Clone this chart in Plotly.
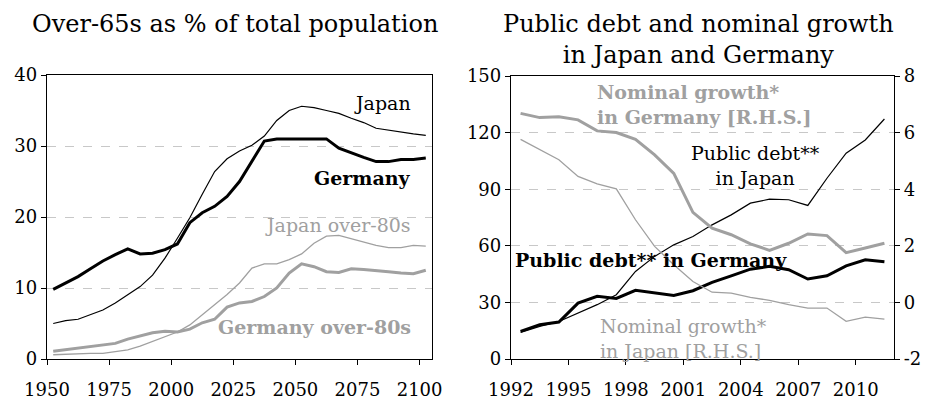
import plotly.graph_objects as go

# --- left panel: over-65s as % of total population (5-year steps)
pop_years = list(range(1950, 2101, 5))
japan_65 = [5.0, 5.4, 5.6, 6.2, 6.9, 7.9, 9.1, 10.2, 11.8, 14.2, 17.0, 19.9, 23.2, 26.4, 28.2,
            29.3, 30.1, 31.4, 33.6, 35.0, 35.6, 35.4, 35.0, 34.6, 33.9, 33.3, 32.5, 32.2, 32.0,
            31.7, 31.5]
germany_65 = [9.8, 10.7, 11.6, 12.7, 13.8, 14.7, 15.5, 14.8, 14.9, 15.4, 16.2, 19.2, 20.6, 21.5,
              22.9, 25.0, 27.8, 30.7, 31.0, 31.0, 31.0, 31.0, 31.0, 29.7, 29.0, 28.4, 27.8, 27.8,
              28.1, 28.1, 28.3]
japan_80 = [0.6, 0.7, 0.7, 0.8, 0.8, 1.1, 1.3, 1.8, 2.5, 3.2, 3.8, 4.8, 6.2, 7.7, 9.1, 10.7,
            12.8, 13.4, 13.4, 14.0, 14.8, 16.3, 17.3, 17.4, 16.9, 16.4, 16.0, 15.7, 15.7, 16.0, 15.9]
germany_80 = [1.1, 1.3, 1.6, 1.8, 2.0, 2.2, 2.8, 3.3, 3.7, 3.9, 3.8, 4.2, 5.1, 5.6, 7.3, 7.9,
              8.1, 8.8, 10.0, 12.1, 13.4, 13.0, 12.3, 12.2, 12.7, 12.6, 12.5, 12.3, 12.1, 12.0, 12.5]
pop_tick_years = [1950, 1975, 2000, 2025, 2050, 2075, 2100]

# --- right panel: public debt (L.H.S.) and nominal growth (R.H.S.)
debt_years = list(range(1992, 2012))
japan_debt = [14.1, 17.3, 19.9, 24.4, 28.8, 34.1, 46.4, 54.4, 60.5, 64.9, 71.1, 76.4, 82.6,
              84.7, 84.4, 81.4, 95.8, 109.1, 116.1, 127.2]
germany_debt = [14.6, 18.2, 19.6, 29.6, 33.2, 32.1, 36.4, 35.0, 33.7, 36.2, 40.6, 44.1, 47.6,
                49.1, 47.3, 42.4, 44.1, 49.4, 52.6, 51.5]
germany_growth = [6.68, 6.53, 6.56, 6.45, 6.06, 6.0, 5.76, 5.21, 4.56, 3.18, 2.62, 2.39, 2.07,
                  1.84, 2.09, 2.42, 2.36, 1.76, 1.92, 2.09]
japan_growth = [5.76, 5.39, 5.04, 4.45, 4.19, 4.01, 2.92, 1.98, 1.33, 0.74, 0.36, 0.33, 0.18,
                0.07, -0.08, -0.2, -0.2, -0.67, -0.52, -0.59]
debt_tick_years = [1992, 1995, 1998, 2001, 2004, 2007, 2010]
growth_ticks = [-2, 0, 2, 4, 6, 8]

FONT = "DejaVu Serif"
BLACK = "#000000"
GREY = "#a0a0a0"
TICK_SIZE = 18
LABEL_SIZE = 19

# the page body adds an 8px margin, so the figure is drawn 8px smaller
# and all page positions below are shifted back by that amount
PAD = 8
W, H = 935 - PAD, 400 - PAD


def px_x(x):
    return (x - PAD) / W


def px_y(y):
    return 1 - (y - PAD) / H


fig = go.Figure()

# left panel lines
fig.add_trace(go.Scatter(x=pop_years, y=japan_80, mode="lines", line=dict(color=GREY, width=1.3),
                         xaxis="x", yaxis="y"))
fig.add_trace(go.Scatter(x=pop_years, y=germany_80, mode="lines", line=dict(color=GREY, width=3),
                         xaxis="x", yaxis="y"))
fig.add_trace(go.Scatter(x=pop_years, y=japan_65, mode="lines", line=dict(color=BLACK, width=1.2),
                         xaxis="x", yaxis="y"))
fig.add_trace(go.Scatter(x=pop_years, y=germany_65, mode="lines", line=dict(color=BLACK, width=3),
                         xaxis="x", yaxis="y"))

# right panel lines
fig.add_trace(go.Scatter(x=debt_years, y=japan_growth, mode="lines", line=dict(color=GREY, width=1.3),
                         xaxis="x2", yaxis="y3"))
fig.add_trace(go.Scatter(x=debt_years, y=germany_growth, mode="lines", line=dict(color=GREY, width=3),
                         xaxis="x2", yaxis="y3"))
fig.add_trace(go.Scatter(x=debt_years, y=japan_debt, mode="lines", line=dict(color=BLACK, width=1.2),
                         xaxis="x2", yaxis="y2"))
fig.add_trace(go.Scatter(x=debt_years, y=germany_debt, mode="lines", line=dict(color=BLACK, width=3),
                         xaxis="x2", yaxis="y2"))

axis_common = dict(showline=True, linecolor=BLACK, linewidth=1.3, mirror=True, ticks="outside",
                   ticklen=5, tickcolor=BLACK, tickfont=dict(family=FONT, size=TICK_SIZE, color=BLACK),
                   zeroline=False, automargin=False)
grid = dict(showgrid=True, gridcolor="#c8c8c8", griddash="dash", gridwidth=1)

fig.update_layout(
    width=W, height=H,
    margin=dict(l=0, r=0, t=0, b=0),
    paper_bgcolor="white", plot_bgcolor="white",
    showlegend=False,
    font=dict(family=FONT, size=LABEL_SIZE, color=BLACK),
    xaxis=dict(domain=[px_x(47), px_x(432)], range=[1947.5, 2102.5],
               tickvals=[y - 2.5 for y in pop_tick_years], ticktext=[str(y) for y in pop_tick_years],
               showgrid=False, ticklabelstandoff=9, anchor="y", **axis_common),
    yaxis=dict(domain=[px_y(359), px_y(75)], range=[0, 40], tickvals=[0, 10, 20, 30, 40],
               anchor="x", **grid, **axis_common),
    xaxis2=dict(domain=[px_x(511), px_x(894)], range=[1991.5, 2011.5],
                tickvals=[y - 0.5 for y in debt_tick_years], ticktext=[str(y) for y in debt_tick_years],
                showgrid=False, ticklabelstandoff=9, anchor="y2", **axis_common),
    yaxis2=dict(domain=[px_y(359), px_y(76)], range=[0, 150], tickvals=[0, 30, 60, 90, 120, 150],
                anchor="x2", **grid, **axis_common),
    yaxis3=dict(range=[-2, 8], tickvals=growth_ticks, ticktext=[str(v) for v in growth_ticks],
                overlaying="y2", side="right",
                anchor="x2", showgrid=False, showline=True, linecolor=BLACK, linewidth=1.3,
                ticks="outside", ticklen=5, tickcolor=BLACK, zeroline=False, automargin=False,
                tickfont=dict(family=FONT, size=TICK_SIZE, color=BLACK)),
)


def label(text, x, y, color=BLACK, bold=False, xanchor="right", align="left", size=LABEL_SIZE):
    if bold:
        text = "<b>" + text.replace("<br>", "</b><br><b>") + "</b>"
    fig.add_annotation(text=text, x=px_x(x), y=px_y(y), xref="paper", yref="paper", showarrow=False,
                       xanchor=xanchor, yanchor="middle", align=align,
                       font=dict(family=FONT, size=size, color=color))


# titles
label("Over-65s as % of total population", 235, 24, xanchor="center", size=24)
label("Public debt and nominal growth<br>in Japan and Germany", 698, 40, xanchor="center",
      align="center", size=24)

# left panel labels
label("Japan", 413, 103)
label("Germany", 413, 178, bold=True)
label("Japan over-80s", 413, 225, color=GREY)
label("Germany over-80s", 413, 327, color=GREY, bold=True)

# right panel labels
label("Nominal growth*<br>in Germany [R.H.S.]", 595, 104, color=GREY, bold=True, xanchor="left")
label("Public debt**<br>in Japan", 755, 165, xanchor="center", align="center")
label("Public debt** in Germany", 513, 260, bold=True, xanchor="left")
label("Nominal growth*<br>in Japan [R.H.S.]", 598, 338, color=GREY, xanchor="left")

fig.write_html("out.html")
